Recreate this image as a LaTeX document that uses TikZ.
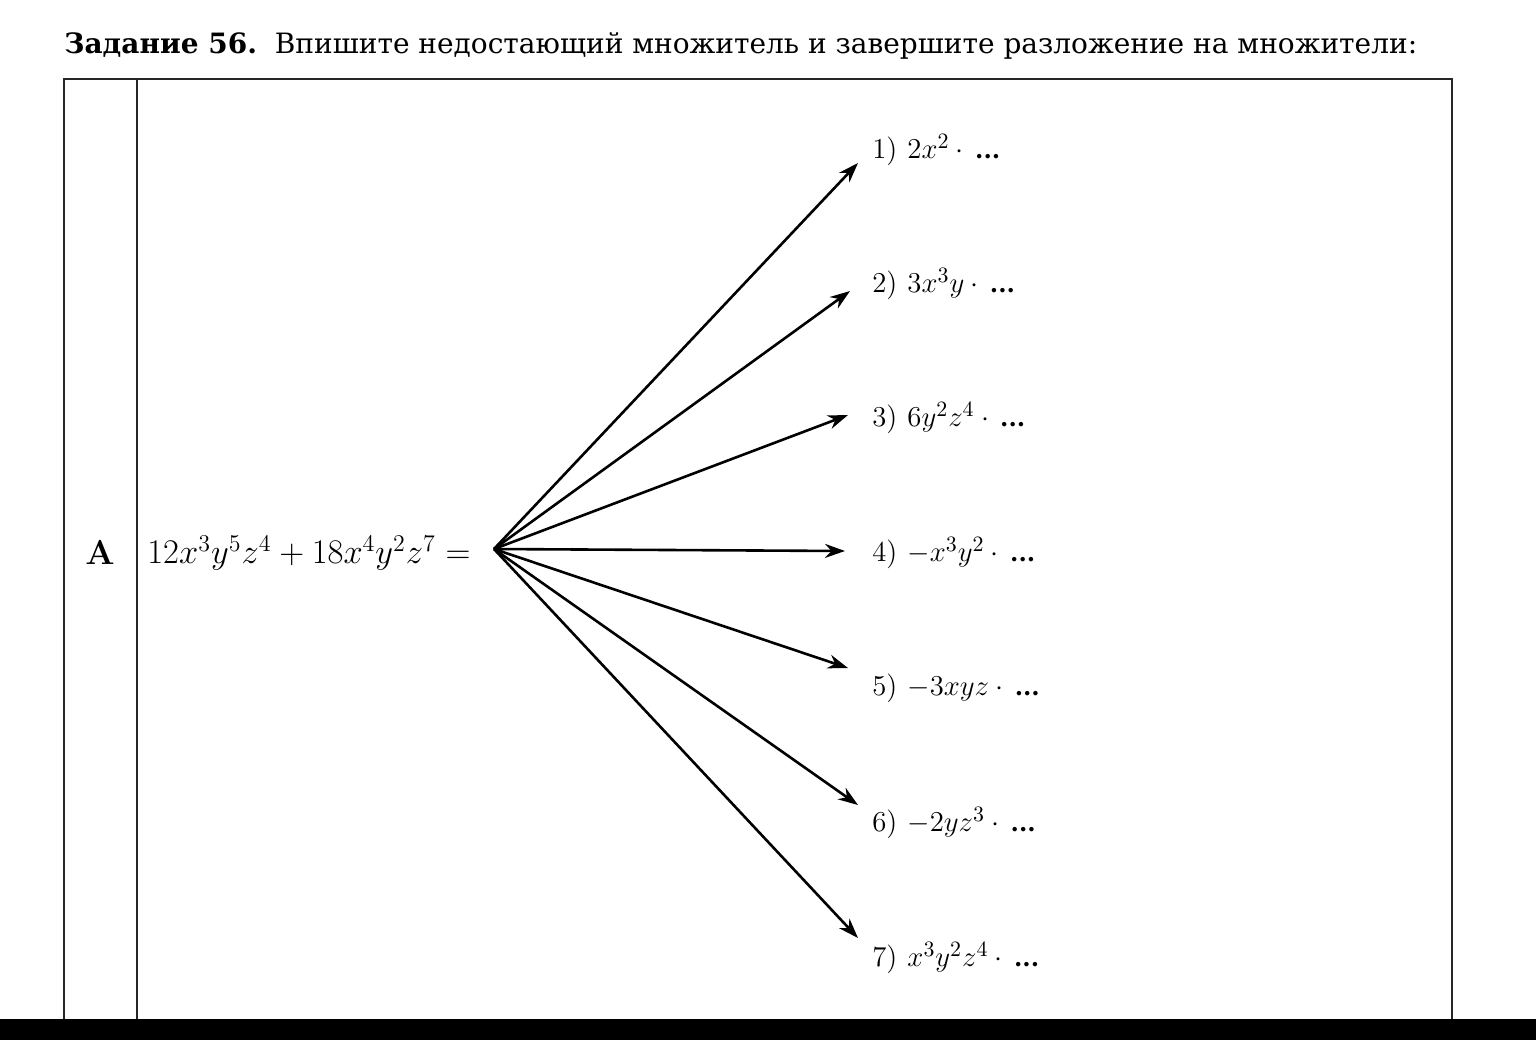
\documentclass[tikz,border=0pt]{standalone}
\usepackage[no-math]{fontspec}
\setmainfont{DejaVu Serif}
\usetikzlibrary{arrows.meta}
\newcommand{\mydots}{\,\text{\bfseries\fontsize{12}{14}\selectfont...}}
\usepackage{amsmath}
\tikzset{
  frame/.style={line width=0.7pt, draw=black!85},
  arr/.style={line width=1.3pt, -{Stealth[length=10pt,width=7pt]}},
  lab/.style={anchor=west, inner sep=0pt, font=\fontsize{15.5}{18}\selectfont},
  title/.style={anchor=base west, inner sep=0pt, font=\fontsize{14}{16}\selectfont},
}
\begin{document}
\begin{tikzpicture}[x=0.5pt,y=-0.5pt]
\useasboundingbox (0,0) rectangle (1536,1040);
\fill[white] (0,0) rectangle (1536,1040);
% title
\node[title] (ttl) at (64,53) {\textbf{Задание 56.}\ \ Впишите недостающий множитель и завершите разложение на множители:};
% table frame
\draw[frame] (64,1019) -- (64,79) -- (1452,79) -- (1452,1019);
\draw[frame] (137,79) -- (137,1019);
% left cells
\node[lab, anchor=center, font=\fontsize{16.5}{20}\selectfont] (A) at (100,553) {$\mathbf{A}$};
\node[lab, font=\fontsize{16.5}{20}\selectfont] (expr) at (147,553) {$12x^3y^5z^4+18x^4y^2z^7=$};
% origin
\coordinate (o) at (494,549);
% labels
\node[lab] (l1) at (872,150) {$1)\hspace{5pt}2x^2\cdot\mydots$};
\node[lab] (l2) at (872,284) {$2)\hspace{5pt}3x^3y\cdot\mydots$};
\node[lab] (l3) at (872,418) {$3)\hspace{5pt}6y^2z^4\cdot\mydots$};
\node[lab] (l4) at (872,553) {$4)\hspace{5pt}{-x^3y^2}\cdot\mydots$};
\node[lab] (l5) at (872,688) {$5)\hspace{5pt}{-3xyz}\cdot\mydots$};
\node[lab] (l6) at (872,823) {$6)\hspace{5pt}{-2yz^3}\cdot\mydots$};
\node[lab] (l7) at (872,958) {$7)\hspace{5pt}x^3y^2z^4\cdot\mydots$};
% arrow tips
\coordinate (t1) at (858,163);
\coordinate (t2) at (850,291);
\coordinate (t3) at (848,415);
\coordinate (t4) at (845,551);
\coordinate (t5) at (848,668);
\coordinate (t6) at (858,805);
\coordinate (t7) at (858,938);
\foreach \i in {1,...,7} \draw[arr] (o) -- (t\i);
% bottom black band
\fill[black] (0,1019) rectangle (1536,1040);
\end{tikzpicture}
\end{document}
